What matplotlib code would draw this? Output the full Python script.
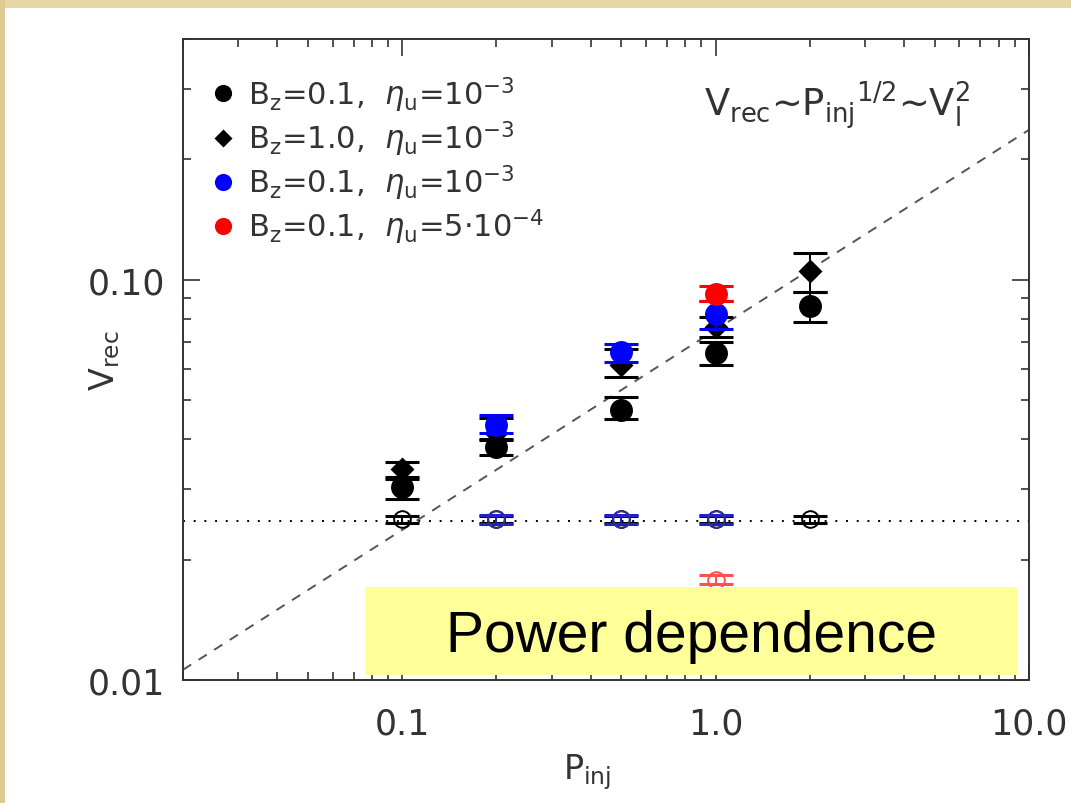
import matplotlib
matplotlib.use('Agg')
import matplotlib.pyplot as plt
import numpy as np
from matplotlib.patches import Rectangle
from matplotlib.ticker import LogLocator, NullFormatter

# ---------------- data ----------------
P_inj = [0.1, 0.2, 0.5, 1.0, 2.0]

# Bz=0.1, eta_u=1e-3 (black circles)
v_black = [0.0303, 0.0382, 0.0473, 0.0658, 0.0859]
v_black_lo = [0.0284, 0.0365, 0.0449, 0.0614, 0.0783]
v_black_hi = [0.0318, 0.0400, 0.0510, 0.0701, 0.0931]

# Bz=1.0, eta_u=1e-3 (black diamonds)
v_diam = [0.0336, 0.0414, 0.0611, 0.0761, 0.1052]
v_diam_lo = [0.0321, 0.0398, 0.0573, 0.0718, 0.0931]
v_diam_hi = [0.0350, 0.0452, 0.0670, 0.0806, 0.1165]

# Bz=0.1, eta_u=1e-3 (blue circles)
P_blue = [0.2, 0.5, 1.0]
v_blue = [0.0434, 0.0662, 0.0820]
v_blue_lo = [0.0414, 0.0625, 0.0752]
v_blue_hi = [0.0460, 0.0693, 0.0884]

# Bz=0.1, eta_u=5e-4 (red circles)
P_red = [1.0]
v_red = [0.0921]
v_red_lo = [0.0884]
v_red_hi = [0.0964]

# open circles (second quantity)
v_open_black = [0.0252, 0.0252, 0.0252, 0.0252, 0.0252]
v_open_black_lo = [0.0247, 0.0247, 0.0247, 0.0247, 0.0247]
v_open_black_hi = [0.0257, 0.0257, 0.0257, 0.0257, 0.0257]
v_open_blue = [0.0252, 0.0252, 0.0252]
v_open_blue_lo = [0.0245, 0.0245, 0.0245]
v_open_blue_hi = [0.0258, 0.0258, 0.0258]
v_open_red = [0.0178]
v_open_red_lo = [0.0174]
v_open_red_hi = [0.0183]

v_level = 0.025          # dotted horizontal line
fit_coef = 0.075         # V_rec = coef * P_inj^(1/2)
fit_exp = 0.5

x_limits = [0.02, 10.0]
y_limits = [0.01, 0.4]
x_ticks = [0.1, 1.0, 10.0]
x_ticklabels = ['0.1', '1.0', '10.0']
y_ticks = [0.01, 0.1]
y_ticklabels = ['0.01', '0.10']

labels = [r'B$_{\rm z}$=0.1,  $\eta_{\rm u}$=10$^{-3}$',
          r'B$_{\rm z}$=1.0,  $\eta_{\rm u}$=10$^{-3}$',
          r'B$_{\rm z}$=0.1,  $\eta_{\rm u}$=10$^{-3}$',
          r'B$_{\rm z}$=0.1,  $\eta_{\rm u}$=5$\cdot$10$^{-4}$']

# ---------------- figure ----------------
W, H = 1071, 804
fig = plt.figure(figsize=(W / 100, H / 100), dpi=100)
fig.patch.set_facecolor('white')

# slide border
fig.add_artist(Rectangle((0, 1 - 9 / H), 1, 9 / H, transform=fig.transFigure,
                         facecolor='#e6d6a4', edgecolor='none', zorder=0))
fig.add_artist(Rectangle((0, 0), 5 / W, 1, transform=fig.transFigure,
                         facecolor='#dccb92', edgecolor='none', zorder=0))

ax = fig.add_axes([183 / W, 1 - 681 / H, (1029 - 183) / W, (681 - 40) / H])
ax.set_xscale('log')
ax.set_yscale('log')
ax.set_xlim(*x_limits)
ax.set_ylim(*y_limits)

gray = '#333333'

def err(v, lo, hi):
    v, lo, hi = map(np.asarray, (v, lo, hi))
    return [v - lo, hi - v]

eb_kw = dict(fmt='none', elinewidth=1.4, capsize=12, capthick=2.2)

# reference lines
xl = np.array(x_limits)
ax.plot(xl, fit_coef * xl ** fit_exp, color='#555555', lw=1.4, dashes=(5, 4.5), zorder=1)
ax.plot(xl, [v_level, v_level], color='black', lw=1.4, dashes=(1, 4.5), zorder=1)

# open circles
ax.errorbar(P_inj, v_open_black, yerr=err(v_open_black, v_open_black_lo, v_open_black_hi),
            ecolor='black', zorder=2, **eb_kw)
ax.plot(P_inj, v_open_black, 'o', ms=12, mfc='none', mec='black', mew=1.4, zorder=2)
ax.errorbar(P_blue, v_open_blue, yerr=err(v_open_blue, v_open_blue_lo, v_open_blue_hi),
            ecolor='#2020d0', zorder=3, **eb_kw)
ax.plot(P_blue, v_open_blue, 'o', ms=12, mfc='none', mec='#303090', mew=1.4, zorder=3)
ax.errorbar(P_red, v_open_red, yerr=err(v_open_red, v_open_red_lo, v_open_red_hi),
            ecolor='#ff5050', zorder=3, **eb_kw)
ax.plot(P_red, v_open_red, 'o', ms=12, mfc='none', mec='#ff5050', mew=1.4, zorder=3)

# filled symbols
ax.errorbar(P_inj, v_diam, yerr=err(v_diam, v_diam_lo, v_diam_hi), ecolor='black', zorder=4, **eb_kw)
h_diam, = ax.plot(P_inj, v_diam, 'D', ms=12, color='black', mec='none', zorder=4)
ax.errorbar(P_inj, v_black, yerr=err(v_black, v_black_lo, v_black_hi), ecolor='black', zorder=5, **eb_kw)
h_black, = ax.plot(P_inj, v_black, 'o', ms=16.5, color='black', mec='none', zorder=5)
ax.errorbar(P_blue, v_blue, yerr=err(v_blue, v_blue_lo, v_blue_hi), ecolor='#0000ff', zorder=6, **eb_kw)
h_blue, = ax.plot(P_blue, v_blue, 'o', ms=16.5, color='#0000ff', mec='none', zorder=6)
ax.errorbar(P_red, v_red, yerr=err(v_red, v_red_lo, v_red_hi), ecolor='#ff0000', zorder=7, **eb_kw)
h_red, = ax.plot(P_red, v_red, 'o', ms=16.5, color='#ff0000', mec='none', zorder=7)

leg = ax.legend([h_black, h_diam, h_blue, h_red], labels,
                loc='upper left', bbox_to_anchor=(0.033, 0.945), frameon=False,
                fontsize=22, handlelength=0.8, handletextpad=0.42, labelspacing=0.15,
                borderpad=0, borderaxespad=0, numpoints=1, markerscale=0.75,
                labelcolor=gray)

# annotation
ax.text(0.616, 0.899, 'V$_{\\rm rec}$\u223cP$_{\\rm inj}$$^{1/2}$\u223cV$_{\\rm l}^{2}$',
        transform=ax.transAxes, ha='left', va='center', fontsize=26.5, color=gray)

# ticks
ax.set_xticks(x_ticks, x_ticklabels)
ax.set_yticks(y_ticks, y_ticklabels)
ax.xaxis.set_minor_locator(LogLocator(base=10, subs=np.arange(2, 10), numticks=20))
ax.yaxis.set_minor_locator(LogLocator(base=10, subs=np.arange(2, 10), numticks=20))
ax.xaxis.set_minor_formatter(NullFormatter())
ax.yaxis.set_minor_formatter(NullFormatter())
ax.tick_params(which='both', direction='in', top=True, right=True, color=gray,
               width=1.2, labelsize=25, labelcolor=gray)
ax.tick_params(which='major', length=12)
ax.tick_params(which='minor', length=6)
ax.tick_params(axis='x', which='major', pad=19)
ax.tick_params(axis='y', which='major', pad=13)
for s in ax.spines.values():
    s.set_color(gray)
    s.set_linewidth(1.4)

ax.set_xlabel(r'P$_{\rm inj}$', fontsize=24, color=gray)
ax.set_ylabel(r'V$_{\rm rec}$', fontsize=24, color=gray)
ax.xaxis.set_label_coords(0.478, -0.111)
ax.yaxis.set_label_coords(-0.072, 0.5)

# highlight box
fig.add_artist(Rectangle((365 / W, 1 - 676 / H), (1018 - 365) / W, (676 - 588) / H,
                         transform=fig.transFigure, facecolor='#ffff99', edgecolor='none',
                         zorder=10))
fig.text(691 / W, 1 - 652 / H, 'Power dependence', ha='center', va='baseline',
         fontsize=41, family='Liberation Sans', color='black', zorder=11)

fig.savefig('out.png', dpi=100)
